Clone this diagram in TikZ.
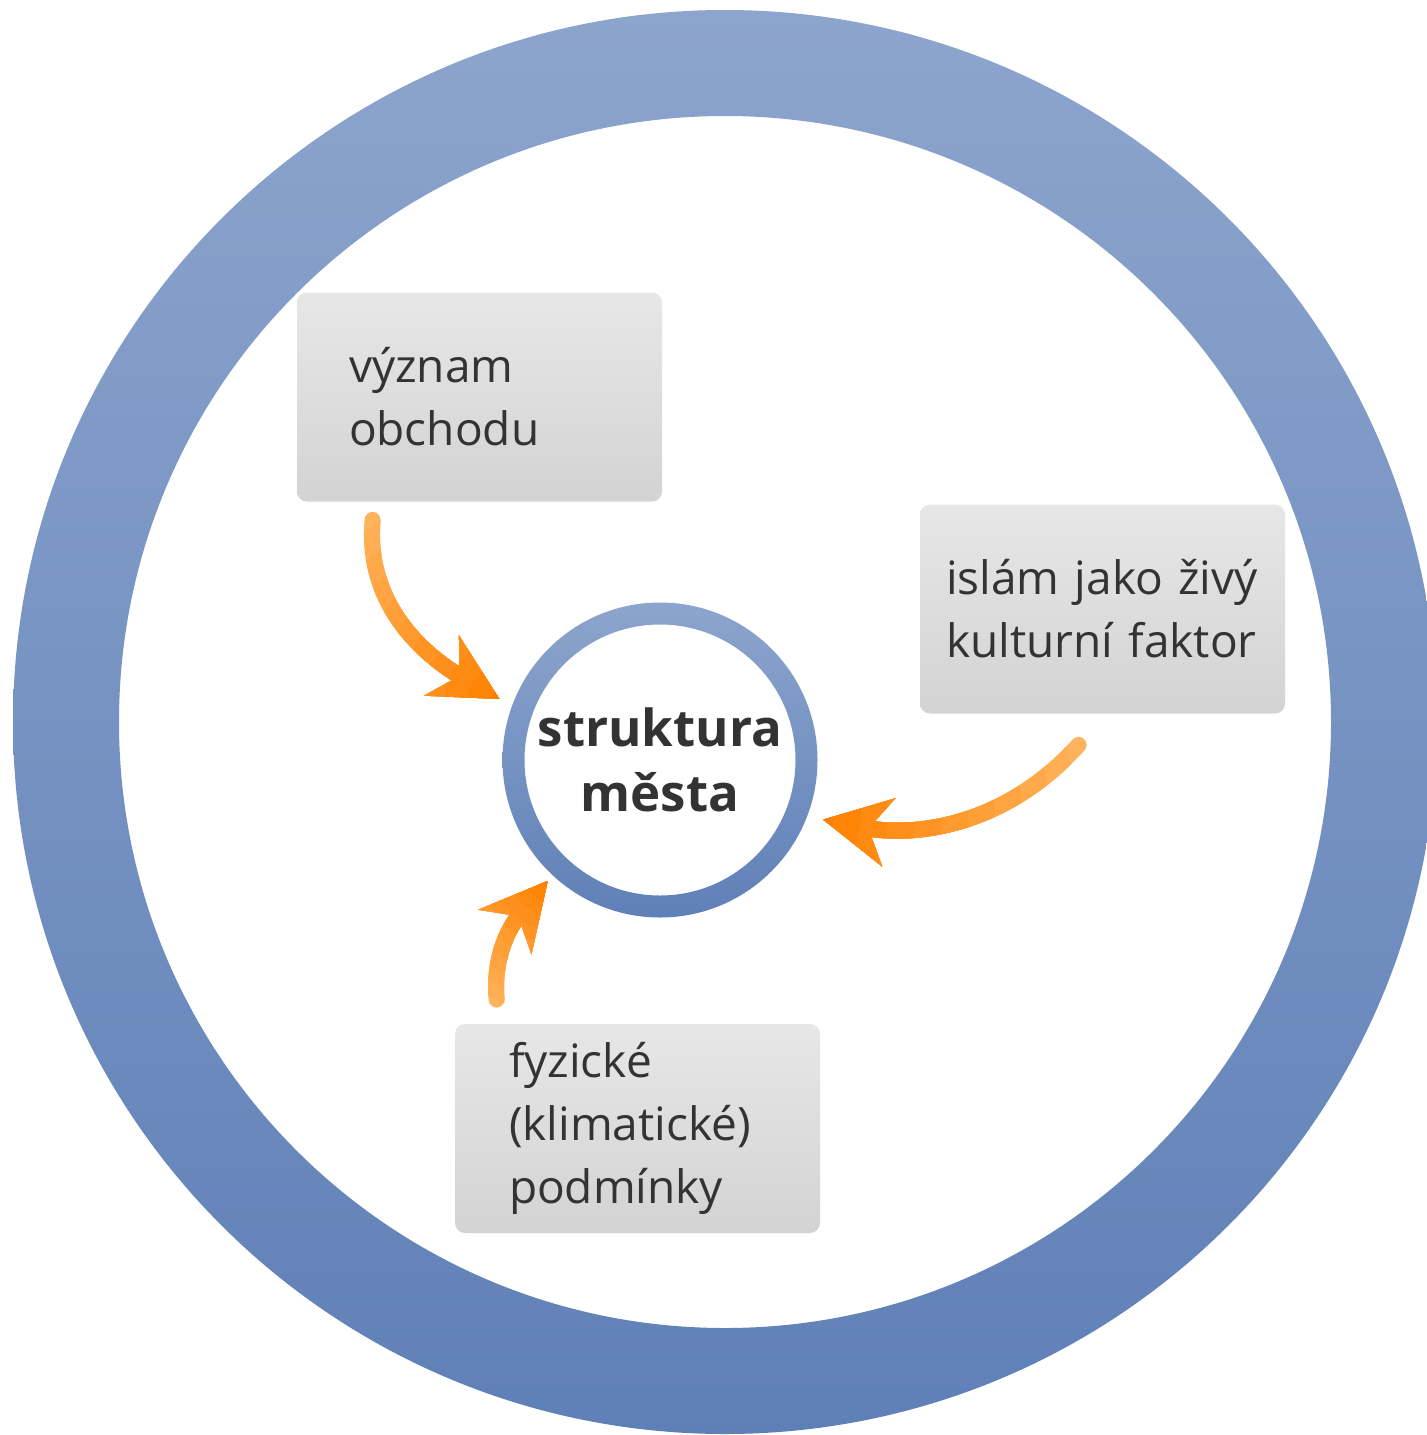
\documentclass[tikz,border=0pt]{standalone}
\usepackage{fontspec}
\setmainfont{Open Sans}
\usetikzlibrary{arrows.meta}

\definecolor{ringtop}{HTML}{8DA5CD}
\definecolor{ringbot}{HTML}{5F80B7}
\definecolor{boxtop}{HTML}{E7E7E7}
\definecolor{boxbot}{HTML}{D3D3D3}
\definecolor{txt}{HTML}{333333}
\definecolor{arrlight}{HTML}{FFB35C}
\definecolor{arrdark}{HTML}{FF8000}

\tikzset{
  factor/.style={rounded corners=5pt,top color=boxtop,bottom color=boxbot,
    text=txt,align=left,minimum height=104.5pt,inner ysep=2pt,
    font=\fontsize{23}{31.5}\selectfont},
  flow/.style={line width=8pt,line cap=round,
    -{Stealth[length=33pt,width=34pt,inset=10pt]}},
}

% orange arrow, lighter at the tail: #1 tip anchor, #2 reach, #3 options, #4 path
\newcommand\gradarrow[4]{%
  \draw[flow,arrlight,#3] #4;
  \foreach \i in {1,...,10}{%
    \pgfmathsetmacro\rr{#2*(11-\i)/11}%
    \pgfmathtruncatemacro\pp{\i*10}%
    \begin{scope}
      \clip (#1) circle (\rr);
      \draw[flow,arrdark!\pp!arrlight,#3] #4;
    \end{scope}}}

\begin{document}
\begin{tikzpicture}[x=0.5pt,y=0.5pt]
\useasboundingbox (0,0) rectangle (1427,-1435);
% outer ring
\coordinate (c) at (725,-722);
\shade[top color=ringtop,bottom color=ringbot,even odd rule]
  (c) circle (712) (c) circle (606);

\node[factor,inner xsep=26pt,text width=130.5pt] (obchod) at (479.5,-397)
  {význam\\obchodu};
\node[factor,inner xsep=13pt,text width=156.5pt] (islam) at (1102.5,-609)
  {islám jako živý\\kulturní faktor};
\node[factor,inner xsep=27pt,text width=128.5pt] (fyz) at (637.5,-1128.5)
  {fyzické\\(klimatické)\\podmínky};

\node[circle,minimum size=157.5pt,inner sep=0pt,align=center,text=txt,
  font=\bfseries\fontsize{25.5}{32.5}\selectfont] (mesto) at (660,-760)
  {struktura\\města};
\shade[top color=ringtop,bottom color=ringbot,even odd rule]
  (mesto.center) circle (157.5) (mesto.center) circle (135.5);

\gradarrow{mesto.160}{250}{shorten >=7pt}
  {([xshift=38pt,yshift=-9pt]obchod.south west) to[out=-95,in=150] (mesto.160)}
\gradarrow{mesto.-21}{295}{shorten >=8pt}
  {([xshift=79.5pt,yshift=-15.5pt]islam.south west) to[out=228,in=-11] (mesto.-21)}
\gradarrow{mesto.227}{150}{shorten >=3.5pt}
  {([xshift=21pt,yshift=12pt]fyz.north west) to[out=95,in=230] (mesto.227)}
\end{tikzpicture}
\end{document}
